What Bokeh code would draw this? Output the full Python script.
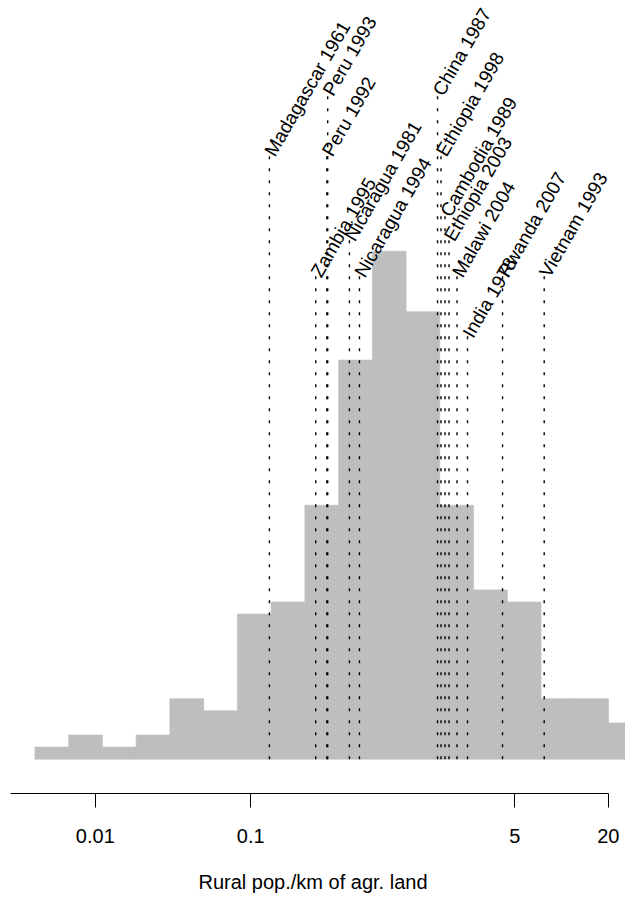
import numpy as np
from bokeh.plotting import figure
from bokeh.models import Range1d, FixedTicker
from bokeh.core.properties import value
from bokeh.embed import file_html
from bokeh.resources import INLINE

# Histogram of log(rural pop./km of agr. land), bins of width 0.5 in natural log
bin_edges_ln = [-5.5, -5.0, -4.5, -4.0, -3.5, -3.0, -2.5, -2.0, -1.5, -1.0,
                -0.5, 0.0, 0.5, 1.0, 1.5, 2.0, 2.5, 3.0, 3.5]
bin_counts = [1, 2, 1, 2, 5, 4, 12, 13, 21, 33, 42, 37, 21, 14, 13, 5, 5, 3]

# Marked country-years
event_labels = ["Madagascar 1961", "Peru 1993", "Peru 1992", "Zambia 1995",
                "Nicaragua 1981", "Nicaragua 1994", "China 1987", "Ethiopia 1998",
                "Cambodia 1989", "Ethiopia 2003", "Malawi 2004", "India 1978",
                "Rwanda 2007", "Vietnam 1993"]
event_values = [0.132, 0.313, 0.309, 0.262, 0.432, 0.501, 1.593, 1.677,
                1.780, 1.888, 2.126, 2.484, 4.173, 7.740]
event_heights = [50, 55, 50, 40, 43, 40, 55, 50, 45, 43, 40, 35, 40, 40]

tick_values = [0.01, 0.1, 5, 20]
tick_labels = ["0.01", "0.1", "5", "20"]
x_title = "Rural pop./km of agr. land"

FONT = "Liberation Sans"

edges = np.exp(np.array(bin_edges_ln))

x_lo = 10 ** -2.6100
x_hi = 10 ** 1.4118
p = figure(width=625, height=899, x_axis_type="log",
           x_range=Range1d(x_lo, x_hi), y_range=Range1d(-2.835, 62.73),
           output_backend="svg", toolbar_location=None,
           y_axis_location=None, min_border_left=0, min_border_right=0,
           min_border_top=0, min_border_bottom=106)
p.outline_line_color = None
p.xgrid.visible = False
p.ygrid.visible = False
p.background_fill_color = "white"
p.border_fill_color = "white"

p.quad(left=edges[:-1], right=edges[1:], bottom=0, top=bin_counts,
       fill_color="#BEBEBE", line_color="#BEBEBE", line_width=0.6)

p.segment(x0=event_values, y0=[0] * len(event_values), x1=event_values,
          y1=event_heights, line_color="black", line_width=1.4,
          line_dash="3 9")

p.text(x=event_values, y=event_heights, text=event_labels, angle=60,
       angle_units="deg", text_font=value(FONT), text_font_size="19px",
       text_align="left", text_baseline="alphabetic", text_color="black")

ax = p.xaxis[0]
ax.ticker = FixedTicker(ticks=tick_values, minor_ticks=[])
ax.major_label_overrides = {v: s for v, s in zip(tick_values, tick_labels)}
ax.bounds = (10 ** -2.5457, 20)
ax.axis_line_color = "black"
ax.axis_line_width = 1
ax.major_tick_line_color = "black"
ax.major_tick_line_width = 1
ax.major_tick_out = 14
ax.major_tick_in = 0
ax.minor_tick_line_color = None
ax.major_label_text_font = FONT
ax.major_label_text_font_size = "20px"
ax.major_label_text_color = "black"
ax.major_label_standoff = 21
ax.axis_label = x_title
ax.axis_label_text_font = FONT
ax.axis_label_text_font_size = "20px"
ax.axis_label_text_font_style = "normal"
ax.axis_label_text_color = "black"
ax.axis_label_standoff = 25

open("out.html", "w").write(file_html(p, INLINE))
